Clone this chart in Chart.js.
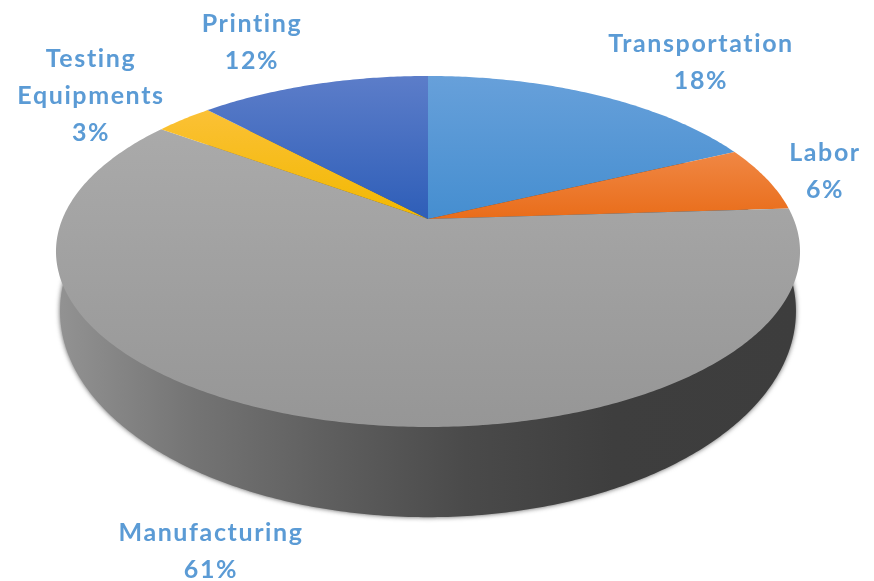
<!DOCTYPE html>
<html>
<head>
<meta charset="utf-8">
<title>Cost breakdown</title>
<script src="https://cdn.jsdelivr.net/npm/chart.js@4"></script>
<style>
    html, body { margin: 0; padding: 0; background: #ffffff; }
    canvas { display: block; }
</style>
</head>
<body>
<canvas id="chart-costs" width="874" height="581"></canvas>
<script>
const categories = ['Transportation', 'Labor', 'Manufacturing', 'Testing Equipments', 'Printing'];
const shares = [18, 6, 61, 3, 12];
const topColors = ['#67a0da', '#f08744', '#aaaaaa', '#fbc136', '#5c7dc9'];
const bottomColors = ['#458ed0', '#e96d1a', '#969696', '#f2b800', '#2e5eb8'];

// where each label block is centred, middle of its first line
const labelCentres = [[701, 44], [825, 153], [211, 533], [91, 59], [252, 24]];
const labelLineHeight = 37;

// tilt of the disc, near edge is drawn bigger than the far edge
const tilt = 0.185;
const topFace = { x: 428, y: 219, a: 365.6, b: 169.5 };
const bottomFace = { x: 428, y: 273, a: 361.6, b: 199 };

function project(face, angle) {
    const u = Math.cos(angle);
    const v = Math.sin(angle);
    const w = 1 - tilt * v;
    return [face.x + face.a * u / w, face.y + face.b * v / w];
}

function sectorPoints(face, startAngle, endAngle) {
    const steps = Math.max(2, Math.ceil((endAngle - startAngle) * 90));
    const points = [[face.x, face.y]];
    for (let i = 0; i <= steps; i++) {
        points.push(project(face, startAngle + (endAngle - startAngle) * i / steps));
    }
    return points;
}

function tracePoints(ctx, points) {
    ctx.beginPath();
    points.forEach((p, i) => (i === 0 ? ctx.moveTo(p[0], p[1]) : ctx.lineTo(p[0], p[1])));
    ctx.closePath();
}

const tiltedPie = {
    id: 'tiltedPie',
    beforeDatasetDraw(chart, args) {
        const ctx = chart.ctx;
        const arcs = args.meta.data;

        // side wall, only the front of it stays visible under the top face
        const wall = ctx.createLinearGradient(60, 0, 798, 0);
        wall.addColorStop(0, '#929292');
        wall.addColorStop(0.18, '#747474');
        wall.addColorStop(0.36, '#5f5f5f');
        wall.addColorStop(0.55, '#4a4a4a');
        wall.addColorStop(0.75, '#3e3e3e');
        wall.addColorStop(1, '#3d3d3d');
        ctx.save();
        ctx.shadowColor = 'rgba(40, 40, 40, 0.75)';
        ctx.shadowBlur = 5;
        tracePoints(ctx, sectorPoints(bottomFace, arcs[0].startAngle, arcs[arcs.length - 1].endAngle));
        ctx.fillStyle = wall;
        ctx.fill();
        ctx.restore();

        // top face, one vertical gradient per slice
        arcs.forEach((arc, i) => {
            const points = sectorPoints(topFace, arc.startAngle, arc.endAngle);
            const ys = points.map(p => p[1]);
            const fill = ctx.createLinearGradient(0, Math.min(...ys), 0, Math.max(...ys));
            fill.addColorStop(0, topColors[i]);
            fill.addColorStop(1, bottomColors[i]);
            tracePoints(ctx, points);
            ctx.fillStyle = fill;
            ctx.fill();
        });
        return false;
    },
    afterDatasetsDraw(chart) {
        const ctx = chart.ctx;
        ctx.save();
        ctx.font = 'bold 25px Lato';
        ctx.letterSpacing = '1.6px';
        ctx.fillStyle = '#5b9bd5';
        ctx.textAlign = 'center';
        ctx.textBaseline = 'middle';
        categories.forEach((name, i) => {
            const lines = name === 'Testing Equipments' ? name.split(' ') : [name];
            lines.push(shares[i] + '%');
            lines.forEach((line, n) => {
                ctx.fillText(line, labelCentres[i][0], labelCentres[i][1] + n * labelLineHeight);
            });
        });
        ctx.restore();
    }
};

new Chart(document.getElementById('chart-costs'), {
    type: 'pie',
    data: {
        labels: categories,
        datasets: [{
            data: shares,
            backgroundColor: bottomColors,
            borderWidth: 0
        }]
    },
    options: {
        responsive: false,
        animation: false,
        plugins: {
            legend: { display: false },
            tooltip: { enabled: false }
        }
    },
    plugins: [tiltedPie]
});
</script>
</body>
</html>
